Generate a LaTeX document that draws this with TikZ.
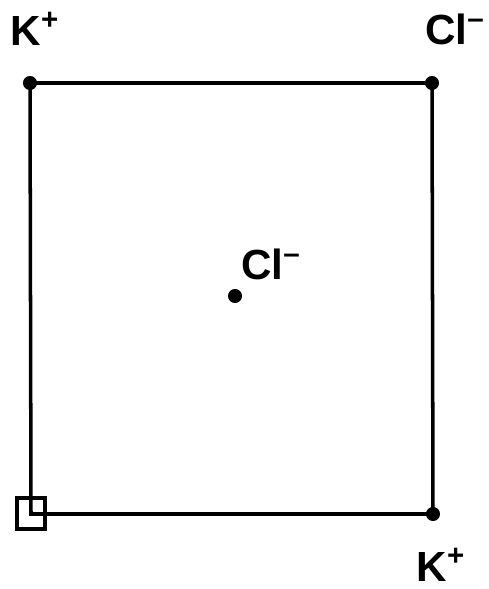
\documentclass[tikz,border=0pt]{standalone}
\usepackage{fontspec}
\setmainfont{Liberation Sans}
\begin{document}
\begin{tikzpicture}[x=0.02cm,y=-0.02cm,line width=2pt,
  ion/.style={font=\fontsize{24}{28}\selectfont\bfseries,inner sep=0pt}]
\useasboundingbox (0,0) rectangle (489,589);
% corners of the cell and the centre
\coordinate (tl) at (30,83);
\coordinate (tr) at (432,83);
\coordinate (br) at (433,514);
\coordinate (bl) at (31,514);
\coordinate (ctr) at (235,296);
\draw (tl) -- (tr) -- (br) -- (bl) -- cycle;
\draw (bl) ++(-14,-16) rectangle ++(28,31);
\fill (tl) circle (4pt);
\fill (tr) circle (4pt);
\fill (br) circle (4pt);
\fill (ctr) circle (4pt);
% ion labels
\node[ion] (k1) at (35,29) {K\textsuperscript{+}};
\node[ion] (cl1) at (455,29) {Cl\textsuperscript{--}};
\node[ion] (cl2) at (271,264) {Cl\textsuperscript{--}};
\node[ion] (k2) at (441,565) {K\textsuperscript{+}};
\end{tikzpicture}
\end{document}
